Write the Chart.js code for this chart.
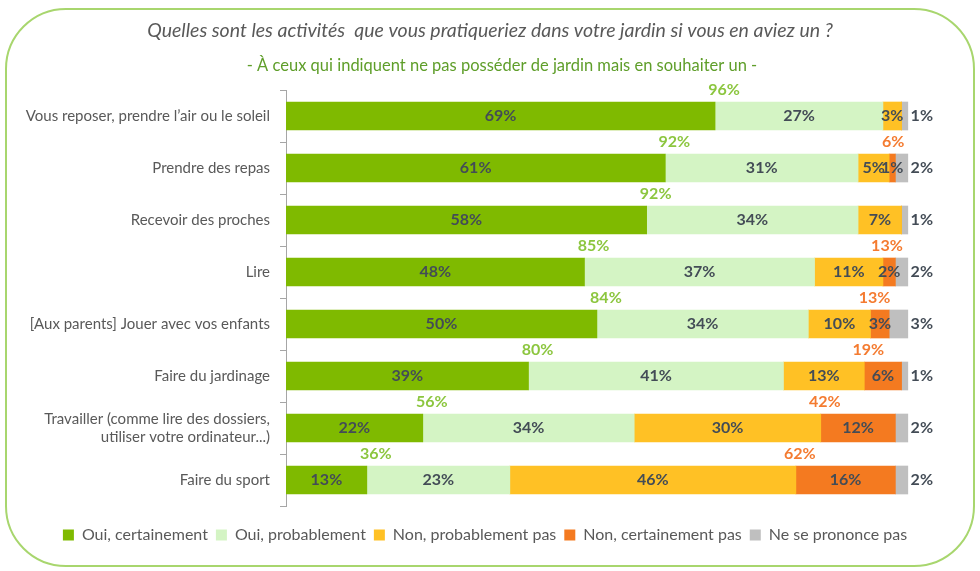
<!DOCTYPE html>
<html lang="fr">
<head>
<meta charset="utf-8">
<script src="https://cdn.jsdelivr.net/npm/chart.js@4.4.1/dist/chart.umd.min.js"></script>
<style>
  html, body { margin: 0; padding: 0; background: #fff; }
  #wrap { width: 980px; height: 571px; position: relative; }
</style>
</head>
<body>
<div id="wrap"><canvas id="jardinChart" width="980" height="571"></canvas></div>
<script>
// Données
const categories = [
    'Vous reposer, prendre l\u2019air ou le soleil',
    'Prendre des repas',
    'Recevoir des proches',
    'Lire',
    '[Aux parents] Jouer avec vos enfants',
    'Faire du jardinage',
    ['Travailler (comme lire des dossiers,', 'utiliser votre ordinateur...)'],
    'Faire du sport'
];
const seriesNames = ['Oui, certainement', 'Oui, probablement', 'Non, probablement pas', 'Non, certainement pas', 'Ne se prononce pas'];
const ouiCertainement = [69, 61, 58, 48, 50, 39, 22, 13];
const ouiProbablement = [27, 31, 34, 37, 34, 41, 34, 23];
const nonProbablement = [3, 5, 7, 11, 10, 13, 30, 46];
const nonCertainement = [0, 1, 0, 2, 3, 6, 12, 16];
const nePrononcePas = [1, 2, 1, 2, 3, 1, 2, 2];
const totalOui = [96, 92, 92, 85, 84, 80, 56, 36];
const totalNon = [null, 6, null, 13, 13, 19, 42, 62];

const couleurs = ['#7fba00', '#d4f4c4', '#ffc125', '#f47a20', '#bfbfbf'];
const valeurs = [ouiCertainement, ouiProbablement, nonProbablement, nonCertainement, nePrononcePas];

document.addEventListener('DOMContentLoaded', function() {

    // cadre arrondi + titres
    const cadrePlugin = {
        id: 'cadre',
        beforeDraw(chart) {
            const ctx = chart.ctx;
            ctx.save();
            ctx.strokeStyle = '#a8d66e';
            ctx.lineWidth = 2;
            ctx.beginPath();
            ctx.roundRect(6, 9, 968, 557, 60);
            ctx.stroke();

            ctx.textAlign = 'center';
            ctx.textBaseline = 'middle';
            ctx.fillStyle = '#595959';
            ctx.font = 'italic 19.5px Lato';
            ctx.fillText('Quelles sont les activités  que vous pratiqueriez dans votre jardin si vous en aviez un ?', 490, 31);
            ctx.fillStyle = '#5f9e2a';
            ctx.font = '16.5px Lato';
            ctx.fillText('- À ceux qui indiquent ne pas posséder de jardin mais en souhaiter un -', 502, 66);
            ctx.restore();
        }
    };

    // étiquettes de valeurs et totaux
    const etiquettesPlugin = {
        id: 'etiquettes',
        afterDatasetsDraw(chart) {
            const ctx = chart.ctx;
            const xs = chart.scales.x;
            ctx.save();
            ctx.textBaseline = 'middle';
            ctx.textAlign = 'center';
            ctx.font = 'bold 16px Lato';
            chart.data.datasets.forEach(function(ds, d) {
                const meta = chart.getDatasetMeta(d);
                meta.data.forEach(function(bar, i) {
                    const v = ds.data[i];
                    if (!v) return;
                    ctx.fillStyle = '#434c56';
                    if (d === 4) {
                        ctx.fillText(v + '%', bar.x + 14, bar.y);
                    } else {
                        ctx.fillText(v + '%', (bar.x + bar.base) / 2, bar.y);
                    }
                });
            });
            const meta0 = chart.getDatasetMeta(0);
            meta0.data.forEach(function(bar, i) {
                const top = bar.y - bar.height / 2 - 12;
                ctx.fillStyle = '#8cc63f';
                ctx.fillText(totalOui[i] + '%', xs.getPixelForValue(ouiCertainement[i]) + 9, top);
                if (totalNon[i] !== null) {
                    ctx.fillStyle = '#f47b30';
                    const bord = ouiCertainement[i] + ouiProbablement[i] + nonProbablement[i];
                    ctx.fillText(totalNon[i] + '%', xs.getPixelForValue(bord) + 4, top);
                }
            });
            ctx.restore();
        }
    };

    const canvas = document.getElementById('jardinChart');
    new Chart(canvas.getContext('2d'), {
        type: 'bar',
        data: {
            labels: categories,
            datasets: seriesNames.map(function(nom, k) {
                return {
                    label: nom,
                    data: valeurs[k],
                    backgroundColor: couleurs[k],
                    borderWidth: 0,
                    barThickness: 28
                };
            })
        },
        options: {
            indexAxis: 'y',
            responsive: false,
            animation: false,
            layout: { padding: { left: 0, right: 10, top: 90, bottom: 18 } },
            scales: {
                x: {
                    stacked: true, min: 0, max: 110,
                    ticks: { display: false },
                    grid: { display: false },
                    border: { display: false },
                    afterFit: function(scale) { scale.height = 13; }
                },
                y: {
                    stacked: true,
                    afterFit: function(scale) { scale.width = 286; },
                    border: { display: true, color: '#a6a6a6' },
                    grid: { offset: true, drawOnChartArea: false, tickLength: 6, color: '#a6a6a6' },
                    ticks: { color: '#595959', font: { family: 'Lato', size: 15 }, padding: 10 }
                }
            },
            plugins: {
                legend: {
                    position: 'bottom',
                    labels: {
                        color: '#595959',
                        font: { family: 'Lato', size: 16 },
                        boxWidth: 11,
                        boxHeight: 11,
                        padding: 8
                    }
                },
                tooltip: { enabled: false }
            }
        },
        plugins: [cadrePlugin, etiquettesPlugin]
    });
});
</script>
</body>
</html>
